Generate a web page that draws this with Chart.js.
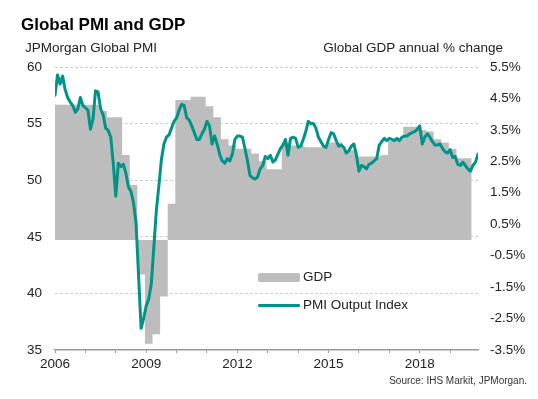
<!DOCTYPE html>
<html>
<head>
<meta charset="utf-8">
<script src="https://cdn.jsdelivr.net/npm/chart.js@4.4.1/dist/chart.umd.min.js"></script>
<style>
  html, body { margin: 0; padding: 0; background: #ffffff; }
  #wrap { position: relative; width: 538px; height: 399px; font-family: Arial, "Liberation Sans", sans-serif; color: #1a1a1a; }
  #c { position: absolute; left: 0; top: 0; }
  .t { position: absolute; white-space: nowrap; line-height: 1; }
  #title { left: 21px; top: 16px; font-size: 17px; font-weight: bold; color: #000; }
  #subL { left: 25px; top: 41px; font-size: 13.5px; color: #222; }
  #subR { right: 35px; top: 41px; font-size: 13.5px; color: #222; }
  #source { right: 11px; top: 376px; font-size: 10px; color: #333; }
  .leg { position: absolute; left: 258px; height: 14px; line-height: 14px; font-size: 13.5px; color: #222; white-space: nowrap; }
  .sw { position: absolute; left: 0; width: 42px; }
  .lt { position: absolute; left: 45px; top: 0; }
</style>
</head>
<body>
<div id="wrap">
  <canvas id="c" width="538" height="399"></canvas>
  <div class="t" id="title">Global PMI and GDP</div>
  <div class="t" id="subL">JPMorgan Global PMI</div>
  <div class="t" id="subR">Global GDP annual % change</div>
  <div class="leg" style="top:270px;"><div class="sw" style="top:3px;height:9px;background:#bdbdbd;border-radius:2px;"></div><div class="lt">GDP</div></div>
  <div class="leg" style="top:298px;"><div class="sw" style="top:6px;height:3px;background:#009488;border-radius:1px;"></div><div class="lt">PMI Output Index</div></div>
  <div class="t" id="source">Source: IHS Markit, JPMorgan.</div>
</div>
<script>
// ---- Data (monthly from Jan 2006, quarterly GDP from Q1 2006) ----
const startYear = 2006;
const yearLabels = ['2006', '2009', '2012', '2015', '2018'];
const pmiTicks = [35, 40, 45, 50, 55, 60];
const gdpTicks = [-3.5, -2.5, -1.5, -0.5, 0.5, 1.5, 2.5, 3.5, 4.5, 5.5];

const pmiOutput = [
  57.5, 59.3, 58.5, 59.2, 58.0, 57.3, 56.9, 56.6, 56.0, 56.3, 57.3, 56.6,
  56.4, 56.2, 54.5, 55.4, 57.9, 57.8, 56.3, 55.8, 54.6, 54.4, 53.8, 51.5,
  48.6, 51.5, 51.2, 51.4, 50.6, 49.4, 49.0, 48.0, 46.2, 41.5, 36.9, 37.8,
  38.9, 39.5, 40.8, 44.0, 47.3, 49.5, 51.8, 53.2, 53.8, 54.0, 54.6, 55.2,
  55.5, 56.2, 56.7, 56.6, 55.5, 55.3, 54.8, 54.2, 53.6, 53.6, 54.1, 54.5,
  55.2, 54.8, 53.2, 53.9, 53.2, 52.3, 51.7, 51.5, 51.9, 51.7, 52.3, 53.6,
  53.9, 53.9, 53.8, 52.8, 51.7, 50.4, 50.2, 50.1, 50.3, 51.0, 51.3, 52.1,
  51.9, 52.2, 51.6, 51.8, 52.3, 52.8, 53.1, 53.6, 52.2, 53.7, 53.8, 53.7,
  52.9, 53.0, 53.6, 54.3, 55.2, 55.0, 55.0, 54.6, 53.8, 53.4, 53.0, 52.9,
  53.6, 54.2, 54.1, 53.5, 53.0, 53.1, 52.9, 52.4, 52.6, 53.0, 53.2, 52.2,
  50.8, 51.3, 51.2, 51.0, 51.4, 51.5, 51.7, 51.9, 53.1, 53.4, 53.7, 53.5,
  53.7, 53.6, 53.5, 53.7, 53.5, 53.8, 53.9, 53.9, 54.1, 54.2, 54.3, 54.5,
  54.8, 53.2, 53.8, 54.1, 53.8, 53.4, 53.1, 53.1, 53.2, 52.8, 52.5, 52.4,
  52.7, 52.0, 52.1, 51.4, 51.3, 51.6, 51.3, 51.0, 50.8, 51.3, 51.6, 52.3
];

const gdpQuarterly = [
  4.3, 4.3, 4.3, 4.3,
  4.3, 4.3, 4.1, 3.9,
  3.9, 2.7, 1.75, -1.1,
  -3.3, -3.0, -1.8, 1.15,
  4.45, 4.45, 4.55, 4.55,
  4.25, 3.9, 3.2, 3.0,
  2.9, 2.9, 2.75, 2.5,
  2.25, 2.25, 3.1, 3.0,
  3.0, 2.95, 2.95, 2.95,
  3.1, 3.1, 2.85, 2.85,
  2.65, 2.65, 2.65, 2.7,
  3.15, 3.2, 3.6, 3.6,
  3.5, 3.45, 3.2, 3.1,
  2.9, 2.6, 2.6
];

// ---- Build library data from the arrays ----
const pmiPoints = pmiOutput.map((v, i) => ({ x: i, y: v }));
const gdpPoints = gdpQuarterly.map((v, q) => ({ x: q * 3 - 0.5, y: v }));
gdpPoints.push({ x: gdpQuarterly.length * 3 - 0.5, y: gdpQuarterly[gdpQuarterly.length - 1] });
const lastMonth = pmiOutput.length - 1;
const yearTickMonths = [];
for (let m = 0; m <= lastMonth; m += 12) yearTickMonths.push(m);

const FONT = 'Arial, "Liberation Sans", sans-serif';

new Chart(document.getElementById('c'), {
  data: {
    datasets: [
      {
        type: 'line', label: 'PMI Output Index', data: pmiPoints, yAxisID: 'y', order: 0,
        borderColor: '#009488', borderWidth: 3, pointRadius: 0, tension: 0,
        borderJoinStyle: 'round', borderCapStyle: 'round', fill: false
      },
      {
        type: 'line', label: 'GDP', data: gdpPoints, yAxisID: 'y2', order: 1,
        stepped: true, fill: 'origin', backgroundColor: '#bdbdbd',
        borderColor: 'rgba(0,0,0,0)', borderWidth: 0, pointRadius: 0
      }
    ]
  },
  options: {
    responsive: false,
    animation: false,
    events: [],
    layout: { padding: { top: 67, left: 0, right: 0, bottom: 0 } },
    plugins: { legend: { display: false }, tooltip: { enabled: false }, title: { display: false } },
    scales: {
      x: {
        type: 'linear', position: 'bottom', min: 0, max: lastMonth,
        afterBuildTicks: (s) => { s.ticks = yearTickMonths.map(v => ({ value: v })); },
        afterFit: (s) => { s.height = 49; },
        grid: { drawOnChartArea: false, drawTicks: true, tickLength: 3, color: '#9a9a9a', lineWidth: 1 },
        border: { display: true, color: '#9a9a9a', width: 1.5 },
        ticks: {
          autoSkip: false, maxRotation: 0, padding: 3, color: '#222',
          font: { family: FONT, size: 13.5 },
          callback: (v) => {
            const y = String(startYear + Math.round(v / 12));
            return yearLabels.includes(y) && v % 12 === 0 ? y : '';
          }
        }
      },
      y: {
        type: 'linear', position: 'left', min: 35, max: 60,
        afterBuildTicks: (s) => { s.ticks = pmiTicks.map(v => ({ value: v })); },
        afterFit: (s) => { s.width = 55; },
        grid: { drawTicks: false, color: (ctx) => ctx.tick && ctx.tick.value === 35 ? 'rgba(0,0,0,0)' : '#cfcfcf', lineWidth: 1 },
        border: { display: false, dash: [3, 2] },
        ticks: { padding: 13, color: '#222', font: { family: FONT, size: 13.5 } }
      },
      y2: {
        type: 'linear', position: 'right', min: -3.5, max: 5.5,
        afterBuildTicks: (s) => { s.ticks = gdpTicks.map(v => ({ value: v })); },
        afterFit: (s) => { s.width = 60; },
        grid: { display: false, drawTicks: false },
        border: { display: false },
        ticks: { padding: 12, color: '#222', font: { family: FONT, size: 13.5 }, callback: (v) => v.toFixed(1) + '%' }
      }
    }
  }
});
</script>
</body>
</html>
